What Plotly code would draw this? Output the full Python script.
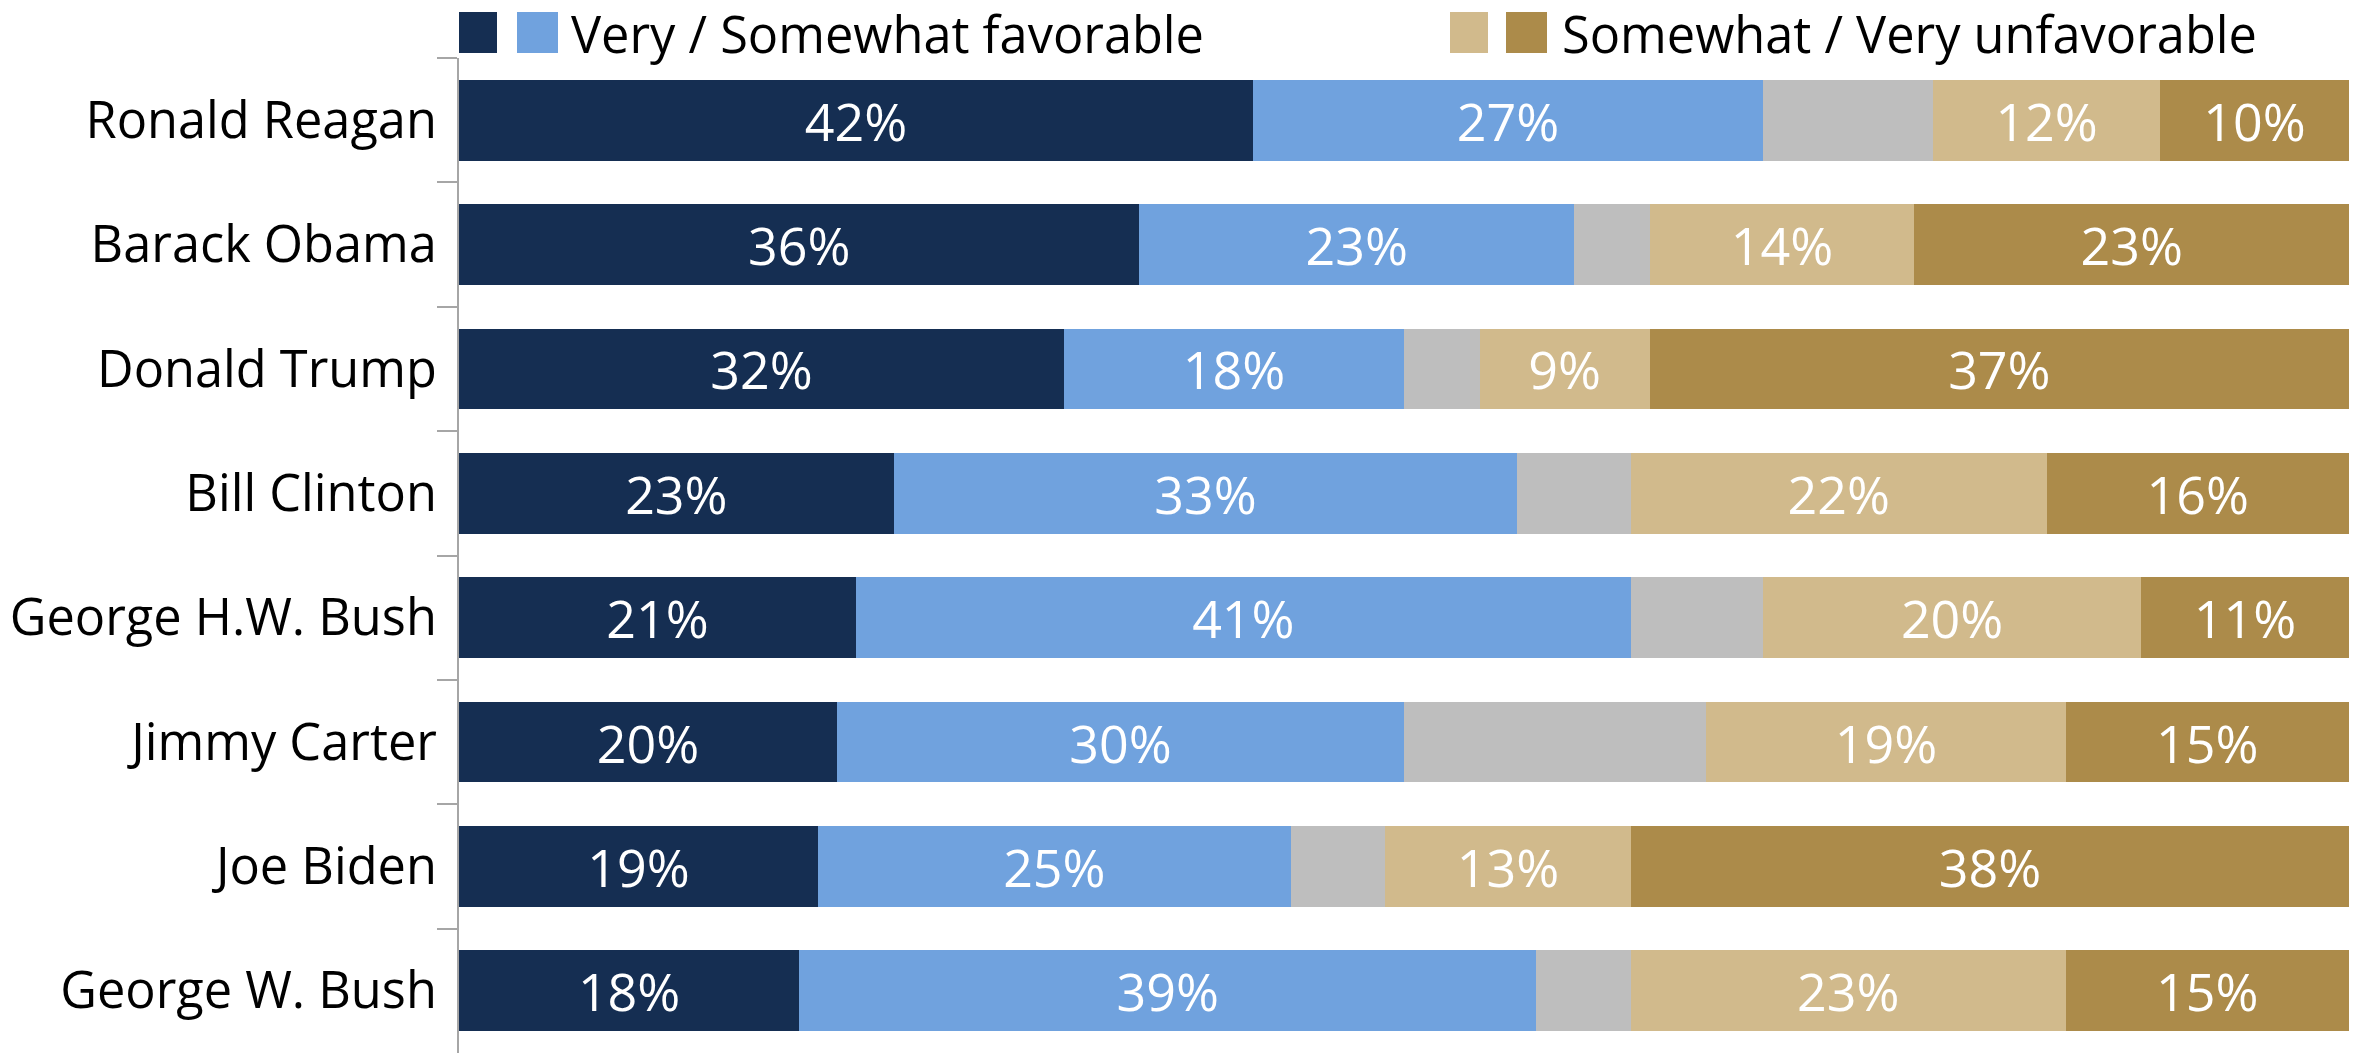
import plotly.graph_objects as go

presidents = ["Ronald Reagan", "Barack Obama", "Donald Trump", "Bill Clinton",
              "George H.W. Bush", "Jimmy Carter", "Joe Biden", "George W. Bush"]
very_fav = [42, 36, 32, 23, 21, 20, 19, 18]
somewhat_fav = [27, 23, 18, 33, 41, 30, 25, 39]
neutral = [9, 4, 4, 6, 7, 16, 5, 5]
somewhat_unfav = [12, 14, 9, 22, 20, 19, 13, 23]
very_unfav = [10, 23, 37, 16, 11, 15, 38, 15]

series_names = ["Very favorable", "Somewhat favorable", "Neither", "Somewhat unfavorable", "Very unfavorable"]
series_vals = [very_fav, somewhat_fav, neutral, somewhat_unfav, very_unfav]
colors = ["#152E52", "#70A2DE", "#BEBEBE", "#D1BA8C", "#AC8B4A"]
show_text = [True, True, False, True, True]
legend_labels = ["Very / Somewhat favorable", "Somewhat / Very unfavorable"]

FONT = "Open Sans"
FS = 50.5
FS_BAR = 52
W, H = 2354, 1053
ML, MR, MT, MB = 459, 5, 58, 0

fig = go.Figure()
for name, vals, col, st in zip(series_names, series_vals, colors, show_text):
    fig.add_trace(go.Bar(
        y=presidents, x=vals, name=name, orientation="h",
        marker=dict(color=col, line=dict(width=0)),
        text=[f"{v}%" for v in vals] if st else None,
        textposition="inside" if st else "none",
        insidetextanchor="middle", textangle=0,
        textfont=dict(color="white", size=FS_BAR, family=FONT),
        showlegend=False,
    ))

pw = W - ML - MR
ph = H - MT - MB
def px_x(x):
    return (x - ML) / pw
def px_y(y):
    return (H - MB - y) / ph

shapes = []
annotations = []
legend_groups = [
    ([(459, 497, colors[0]), (517, 558, colors[1])], 569, legend_labels[0]),
    ([(1450, 1488, colors[3]), (1506, 1547, colors[4])], 1560, legend_labels[1]),
]
for sw, tx, lab in legend_groups:
    for x0, x1, c in sw:
        shapes.append(dict(type="rect", xref="paper", yref="paper",
                           x0=px_x(x0), x1=px_x(x1), y0=px_y(53), y1=px_y(12),
                           fillcolor=c, line=dict(width=0)))
    annotations.append(dict(xref="paper", yref="paper", x=px_x(tx), y=px_y(33),
                            xanchor="left", yanchor="middle", text=lab, showarrow=False,
                            font=dict(size=FS, family=FONT, color="black")))

fig.update_layout(
    barmode="stack", bargap=0.35,
    width=W, height=H,
    margin=dict(l=ML, r=MR, t=MT, b=MB, pad=0),
    plot_bgcolor="white", paper_bgcolor="white",
    shapes=shapes, annotations=annotations,
    xaxis=dict(range=[0, 100], visible=False, fixedrange=True),
    yaxis=dict(autorange="reversed", showline=True, linecolor="#A6A6A6", linewidth=2,
               ticks="outside", tickson="boundaries", ticklen=20, tickcolor="#A6A6A6",
               tickwidth=2, showgrid=False, zeroline=False, ticklabelstandoff=10,
               tickfont=dict(size=FS, family=FONT, color="black")),
)
fig.write_html("out.html", config={"displayModeBar": False},
               post_script="document.body.style.margin='0';document.body.style.overflow='hidden';")
